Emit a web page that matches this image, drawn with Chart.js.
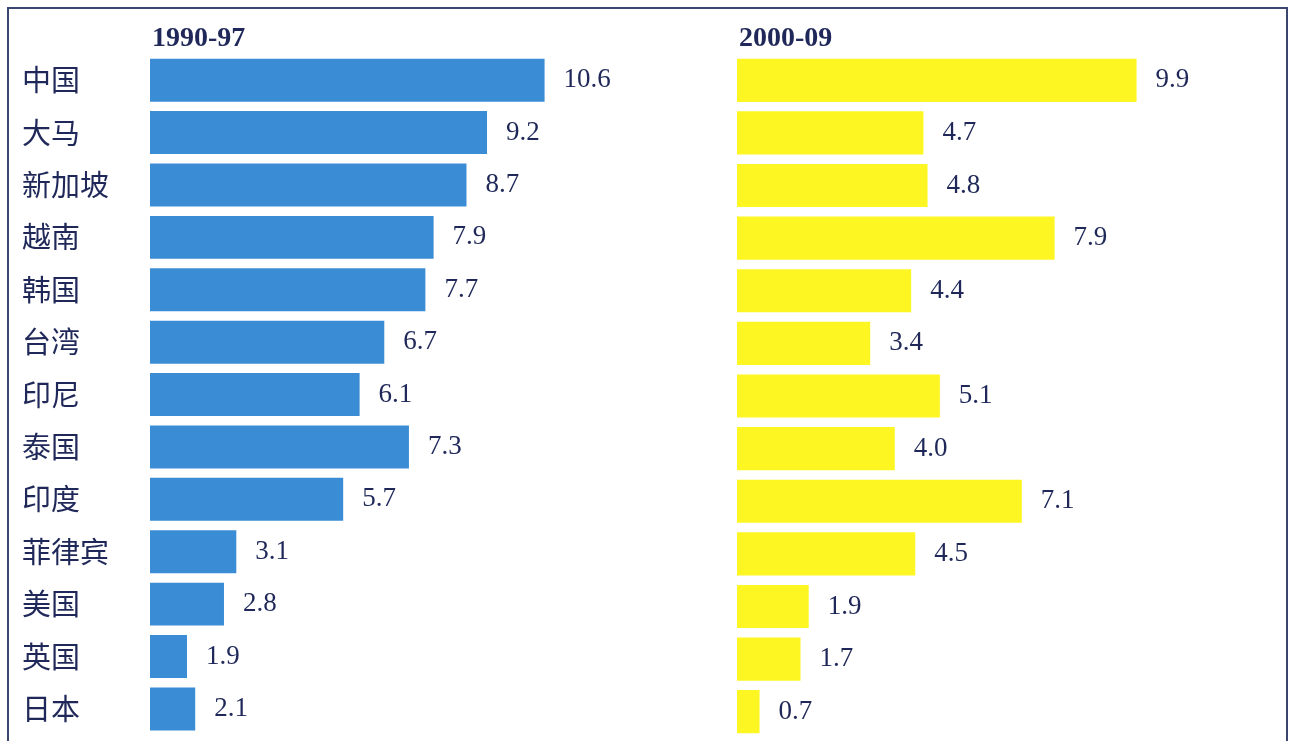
<!DOCTYPE html>
<html>
<head>
<meta charset="utf-8">
<script src="https://cdn.jsdelivr.net/npm/chart.js@4.4.1/dist/chart.umd.min.js"></script>
<style>
    body { margin: 0; background: #ffffff; }
    #wrap { position: relative; width: 1290px; height: 741px; overflow: hidden; background: #ffffff; }
    #frame { position: absolute; left: 7px; top: 7px; width: 1277px; height: 760px; border: 2px solid #3b4670; }
    #leftChart { position: absolute; left: 0; top: 0; }
    #rightChart { position: absolute; left: 645px; top: 0; }
</style>
</head>
<body>
<div id="wrap">
    <div id="frame"></div>
    <canvas id="leftChart" width="645" height="741"></canvas>
    <canvas id="rightChart" width="645" height="741"></canvas>
</div>
<script>
var countries = ['中国', '大马', '新加坡', '越南', '韩国', '台湾', '印尼', '泰国', '印度', '菲律宾', '美国', '英国', '日本'];
var growth_1990_97 = [10.6, 9.2, 8.7, 7.9, 7.7, 6.7, 6.1, 7.3, 5.7, 3.1, 2.8, 1.9, 2.1];
var growth_2000_09 = [9.9, 4.7, 4.8, 7.9, 4.4, 3.4, 5.1, 4.0, 7.1, 4.5, 1.9, 1.7, 0.7];
var period_left = '1990-97';
var period_right = '2000-09';

var textColor = '#1f2858';

// draws the period title above the bars and the value at the end of each bar
var barText = {
    id: 'barText',
    afterDatasetsDraw: function (chart) {
        var ctx = chart.ctx;
        var ds = chart.data.datasets[0];
        ctx.save();
        ctx.fillStyle = textColor;
        ctx.textBaseline = 'middle';
        ctx.textAlign = 'left';
        ctx.font = 'bold 28px "Liberation Serif", "Times New Roman", serif';
        ctx.fillText(ds.label, chart.chartArea.left + 2, 39);
        ctx.font = '27px "Liberation Serif", "Times New Roman", serif';
        var bars = chart.getDatasetMeta(0).data;
        for (var i = 0; i < bars.length; i++) {
            ctx.fillText(ds.data[i].toFixed(1), bars[i].x + 19, bars[i].y);
        }
        ctx.restore();
    }
};

function makeChart(id, label, values, color, xMin, xMax, showLabels, padLeft, axisWidth) {
    return new Chart(document.getElementById(id), {
        type: 'bar',
        data: {
            labels: countries,
            datasets: [{
                label: label,
                data: values,
                backgroundColor: color,
                borderWidth: 0,
                barPercentage: 0.82,
                categoryPercentage: 1
            }]
        },
        options: {
            indexAxis: 'y',
            responsive: false,
            maintainAspectRatio: false,
            animation: false,
            layout: { padding: { left: padLeft, right: 10, top: 54, bottom: 3 } },
            plugins: {
                legend: { display: false },
                tooltip: { enabled: false }
            },
            scales: {
                x: { display: false, min: xMin, max: xMax },
                y: {
                    display: showLabels,
                    grid: { display: false },
                    border: { display: false },
                    ticks: {
                        crossAlign: 'far',
                        color: textColor,
                        font: { family: '"Noto Sans CJK SC", sans-serif', size: 29, lineHeight: 0.2 }
                    },
                    afterFit: function (scale) { scale.width = axisWidth; }
                }
            }
        },
        plugins: [barText]
    });
}

makeChart('leftChart', period_left, growth_1990_97, '#3a8dd4', 1, 12.8, true, 22, 128);
makeChart('rightChart', period_right, growth_2000_09, '#fef623', 0.15, 13.4, false, 0, 92);
</script>
</body>
</html>
